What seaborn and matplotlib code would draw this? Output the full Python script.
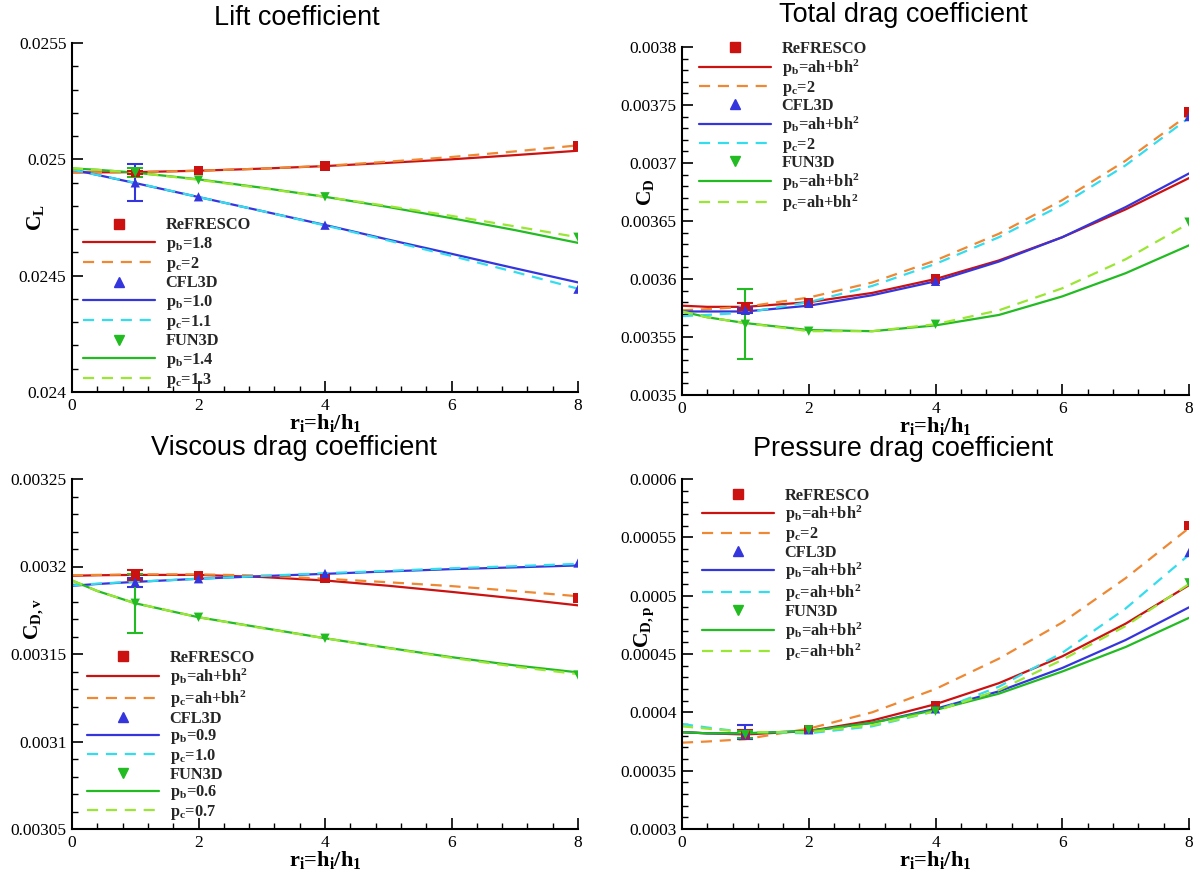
import matplotlib
matplotlib.use("Agg")
import matplotlib.pyplot as plt
from matplotlib.ticker import MultipleLocator, FuncFormatter
from matplotlib.lines import Line2D
import seaborn as sns
import pandas as pd

# ---------------------------------------------------------------- data
# grid refinement ratio of the solutions and of the fitted curves
PTS_X = [1, 2, 4, 8]
FIT_X = [0, 0.4, 1, 2, 3, 4, 5, 6, 7, 8]

# Lift coefficient
LIFT_REF = [0.024944, 0.024951, 0.024971, 0.025060]
LIFT_CFL = [0.024899, 0.024839, 0.024717, 0.024442]
LIFT_FUN = [0.024943, 0.024911, 0.024839, 0.024665]
LIFT_ERR = [0.000005, 0.000080, 0.000018]
LIFT_REF_B = [0.024944, 0.024944, 0.024945, 0.024951, 0.024960, 0.024971, 0.024985, 0.025000, 0.025018, 0.025037]
LIFT_REF_C = [0.024944, 0.024944, 0.024945, 0.024951, 0.024960, 0.024972, 0.024990, 0.025010, 0.025034, 0.025060]
LIFT_CFL_B = [0.024957, 0.024933, 0.024898, 0.024838, 0.024778, 0.024718, 0.024655, 0.024594, 0.024532, 0.024471]
LIFT_CFL_C = [0.024956, 0.024933, 0.024899, 0.024838, 0.024778, 0.024716, 0.024651, 0.024585, 0.024516, 0.024444]
LIFT_FUN_B = [0.024961, 0.024955, 0.024943, 0.024914, 0.024878, 0.024839, 0.024795, 0.024747, 0.024696, 0.024641]
LIFT_FUN_C = [0.024961, 0.024955, 0.024943, 0.024912, 0.024876, 0.024839, 0.024799, 0.024757, 0.024712, 0.024665]
LIFT_LABELS = ["1.8", "2", "1.0", "1.1", "1.4", "1.3"]

# Total drag coefficient
CD_REF = [0.003576, 0.003580, 0.003600, 0.003744]
CD_CFL = [0.003573, 0.003579, 0.003598, 0.003740]
CD_FUN = [0.003561, 0.003555, 0.003561, 0.003649]
CD_ERR = [0.000003, 0.000002, 0.000030]
CD_REF_B = [0.003577, 0.003576, 0.003576, 0.003580, 0.003588, 0.003600, 0.003616, 0.003636, 0.003660, 0.003687]
CD_REF_C = [0.003573, 0.003574, 0.003576, 0.003584, 0.003597, 0.003616, 0.003639, 0.003668, 0.003702, 0.003742]
CD_CFL_B = [0.003572, 0.003572, 0.003572, 0.003577, 0.003586, 0.003598, 0.003615, 0.003636, 0.003662, 0.003691]
CD_CFL_C = [0.003568, 0.003569, 0.003571, 0.003580, 0.003594, 0.003613, 0.003636, 0.003664, 0.003698, 0.003739]
CD_FUN_B = [0.003572, 0.003567, 0.003562, 0.003556, 0.003555, 0.003560, 0.003569, 0.003585, 0.003605, 0.003629]
CD_FUN_C = [0.003572, 0.003567, 0.003562, 0.003555, 0.003555, 0.003561, 0.003573, 0.003592, 0.003617, 0.003648]
CD_LABELS = ["ah+bh$^\\mathrm{2}$", "2", "ah+bh$^\\mathrm{2}$", "2", "ah+bh$^\\mathrm{2}$", "ah+bh$^\\mathrm{2}$"]

# Viscous drag coefficient
CDV_REF = [0.003195, 0.003195, 0.003193, 0.003182]
CDV_CFL = [0.003191, 0.003193, 0.003196, 0.003202]
CDV_FUN = [0.003179, 0.003171, 0.003159, 0.003138]
CDV_ERR = [0.0000028, 0.0000025, 0.000017]
CDV_REF_B = [0.0031947, 0.0031950, 0.0031952, 0.0031952, 0.0031940, 0.0031920, 0.0031890, 0.0031855, 0.0031818, 0.0031778]
CDV_REF_C = [0.0031950, 0.0031952, 0.0031955, 0.0031955, 0.0031948, 0.0031930, 0.0031910, 0.0031888, 0.0031860, 0.0031830]
CDV_CFL_B = [0.0031890, 0.0031900, 0.0031912, 0.0031930, 0.0031945, 0.0031958, 0.0031972, 0.0031985, 0.0031995, 0.0032006]
CDV_CFL_C = [0.0031892, 0.0031902, 0.0031913, 0.0031930, 0.0031946, 0.0031962, 0.0031975, 0.0031990, 0.0032002, 0.0032015]
CDV_FUN_B = [0.0031920, 0.0031860, 0.0031790, 0.0031710, 0.0031650, 0.0031590, 0.0031535, 0.0031482, 0.0031435, 0.0031395]
CDV_FUN_C = [0.0031920, 0.0031860, 0.0031790, 0.0031710, 0.0031648, 0.0031590, 0.0031533, 0.0031478, 0.0031428, 0.0031385]
CDV_LABELS = ["ah+bh$^\\mathrm{2}$", "ah+bh$^\\mathrm{2}$", "0.9", "1.0", "0.6", "0.7"]

# Pressure drag coefficient
CDP_REF = [0.000381, 0.000385, 0.000406, 0.000560]
CDP_CFL = [0.000383, 0.000385, 0.000403, 0.000537]
CDP_FUN = [0.000381, 0.000385, 0.000401, 0.000511]
CDP_ERR = [0.000004, 0.000006, 0.000003]
CDP_REF_B = [0.000383, 0.000382, 0.000381, 0.000384, 0.000393, 0.000407, 0.000425, 0.000448, 0.000476, 0.000509]
CDP_REF_C = [0.000374, 0.000375, 0.000377, 0.000386, 0.000400, 0.000420, 0.000446, 0.000477, 0.000515, 0.000558]
CDP_CFL_B = [0.000383, 0.000382, 0.000382, 0.000384, 0.000391, 0.000403, 0.000418, 0.000438, 0.000462, 0.000490]
CDP_CFL_C = [0.000390, 0.000387, 0.000383, 0.000382, 0.000388, 0.000401, 0.000422, 0.000451, 0.000489, 0.000535]
CDP_FUN_B = [0.000383, 0.000382, 0.000382, 0.000384, 0.000391, 0.000402, 0.000416, 0.000435, 0.000456, 0.000481]
CDP_FUN_C = [0.000388, 0.000386, 0.000383, 0.000383, 0.000389, 0.000401, 0.000419, 0.000445, 0.000474, 0.000510]
CDP_LABELS = ["ah+bh$^\\mathrm{2}$", "2", "ah+bh$^\\mathrm{2}$", "ah+bh$^\\mathrm{2}$", "ah+bh$^\\mathrm{2}$", "ah+bh$^\\mathrm{2}$"]

CODES = ["ReFRESCO", "CFL3D", "FUN3D"]

# ---------------------------------------------------------------- style
sns.set_theme(style="white")
plt.rcParams.update({
    "font.family": ["Liberation Serif", "DejaVu Serif"],
    "mathtext.fontset": "custom",
    "mathtext.rm": "Liberation Serif:bold",
    "mathtext.it": "Liberation Serif:italic:bold",
    "mathtext.bf": "Liberation Serif:bold",
    "xtick.direction": "in",
    "ytick.direction": "in",
})

SOLID = {"ReFRESCO": "#cc1111", "CFL3D": "#3535dd", "FUN3D": "#22bb22"}
DASH = {"ReFRESCO": "#ee8833", "CFL3D": "#33ddee", "FUN3D": "#99e633"}
MARK = {"ReFRESCO": "s", "CFL3D": "^", "FUN3D": "v"}
DASHES = (0, (5, 3.5))

W, H = 1204, 875
fig = plt.figure(figsize=(W / 100, H / 100), dpi=100)


def px_axes(x0, x1, ytop, ybot):
    return fig.add_axes([x0 / W, 1 - ybot / H, (x1 - x0) / W, (ybot - ytop) / H])


panels = [
    dict(rect=(72, 578, 43, 392), title="Lift coefficient", title_xy=(297, 18),
         ylabel="C$_\\mathrm{L}$", ylabel_y=0.5,
         ylim=(0.024, 0.0255), major=0.0005, minor=0.0001,
         pts=(LIFT_REF, LIFT_CFL, LIFT_FUN), err=LIFT_ERR,
         fits=(LIFT_REF_B, LIFT_REF_C, LIFT_CFL_B, LIFT_CFL_C, LIFT_FUN_B, LIFT_FUN_C),
         labels=LIFT_LABELS, leg=(0.018, 0.505), spacing=0.08),
    dict(rect=(682, 1189, 47, 395), title="Total drag coefficient", title_xy=(903, 15),
         ylabel="C$_\\mathrm{D}$", ylabel_y=0.583,
         ylim=(0.0035, 0.0038), major=0.00005, minor=0.00001,
         pts=(CD_REF, CD_CFL, CD_FUN), err=CD_ERR,
         fits=(CD_REF_B, CD_REF_C, CD_CFL_B, CD_CFL_C, CD_FUN_B, CD_FUN_C),
         labels=CD_LABELS, leg=(0.03, 1.022), spacing=0.015),
    dict(rect=(72, 578, 479, 829), title="Viscous drag coefficient", title_xy=(294, 448),
         ylabel="C$_\\mathrm{D,v}$", ylabel_y=0.6,
         ylim=(0.00305, 0.00325), major=0.00005, minor=0.00001,
         pts=(CDV_REF, CDV_CFL, CDV_FUN), err=CDV_ERR,
         fits=(CDV_REF_B, CDV_REF_C, CDV_CFL_B, CDV_CFL_C, CDV_FUN_B, CDV_FUN_C),
         labels=CDV_LABELS, leg=(0.026, 0.517), spacing=0.045),
    dict(rect=(682, 1189, 479, 829), title="Pressure drag coefficient", title_xy=(903, 449),
         ylabel="C$_\\mathrm{D,p}$", ylabel_y=0.578,
         ylim=(0.0003, 0.0006), major=0.00005, minor=0.00001,
         pts=(CDP_REF, CDP_CFL, CDP_FUN), err=CDP_ERR,
         fits=(CDP_REF_B, CDP_REF_C, CDP_CFL_B, CDP_CFL_C, CDP_FUN_B, CDP_FUN_C),
         labels=CDP_LABELS, leg=(0.036, 0.98), spacing=0.015),
]

for p in panels:
    ax = px_axes(*p["rect"])
    handles, texts = [], []
    for i, code in enumerate(CODES):
        y_pts = p["pts"][i]
        y_b = p["fits"][2 * i]
        y_c = p["fits"][2 * i + 1]
        fit_df = pd.DataFrame({"r": FIT_X, "b": y_b, "c": y_c})
        sns.lineplot(data=fit_df, x="r", y="b", ax=ax, color=SOLID[code], lw=1.6,
                     estimator=None, legend=False)
        sns.lineplot(data=fit_df, x="r", y="c", ax=ax, color=DASH[code], lw=1.6,
                     dashes=False, linestyle=DASHES, estimator=None, legend=False)
        pt_df = pd.DataFrame({"r": PTS_X, "v": y_pts})
        sns.scatterplot(data=pt_df, x="r", y="v", ax=ax, color=SOLID[code],
                        marker=MARK[code], s=45, edgecolor="none", legend=False, zorder=4)
        ax.errorbar(PTS_X[0], y_pts[0], yerr=p["err"][i], color=SOLID[code],
                    capsize=5.5, capthick=1.5, elinewidth=1.5, fmt="none", zorder=3)

        handles += [
            Line2D([], [], ls="none", marker=MARK[code], color=SOLID[code], ms=7),
            Line2D([], [], color=SOLID[code], lw=1.6),
            Line2D([], [], color=DASH[code], lw=1.6, ls=DASHES),
        ]
        texts += [code, "p$_\\mathrm{b}$=" + p["labels"][2 * i],
                  "p$_\\mathrm{c}$=" + p["labels"][2 * i + 1]]

    ax.legend(handles, texts, loc="upper left", bbox_to_anchor=p["leg"],
              frameon=False, handlelength=4.4, handletextpad=0.65,
              labelspacing=p["spacing"], borderpad=0.1, borderaxespad=0.0,
              prop={"family": "Liberation Serif", "weight": "bold", "size": 11.8})

    ax.set_xlim(0, 8)
    ax.set_ylim(*p["ylim"])
    ax.xaxis.set_major_locator(MultipleLocator(2))
    ax.xaxis.set_minor_locator(MultipleLocator(0.4))
    ax.yaxis.set_major_locator(MultipleLocator(p["major"]))
    ax.yaxis.set_minor_locator(MultipleLocator(p["minor"]))
    ax.yaxis.set_major_formatter(FuncFormatter(lambda v, _: f"{v:g}"))
    ax.tick_params(which="major", length=8, width=1.2, labelsize=12.5, color="black",
                   labelcolor="black", pad=4, labelfontfamily="Liberation Serif")
    ax.tick_params(which="minor", length=4, width=1.0, color="black")
    ax.tick_params(axis="x", which="both", bottom=True, top=False)
    ax.tick_params(axis="y", which="both", left=True, right=False)
    for s in ("top", "right"):
        ax.spines[s].set_visible(False)
    for s in ("left", "bottom"):
        ax.spines[s].set_color("black")
        ax.spines[s].set_linewidth(1.5)

    tx, ty = p["title_xy"]
    fig.text(tx / W, 1 - ty / H, p["title"], family="Liberation Sans", fontsize=19.5,
             ha="center", va="center", color="black")
    ax.set_xlabel("r$_\\mathrm{i}$=h$_\\mathrm{i}$/h$_\\mathrm{1}$", fontsize=16,
                  fontweight="bold", labelpad=-1, color="black")
    ax.set_ylabel(p["ylabel"], fontsize=15.5, fontweight="bold", color="black")
    ax.yaxis.set_label_coords(-0.052, p["ylabel_y"])
    ax.set_facecolor("white")

fig.savefig("out.png", dpi=100, facecolor="white")
